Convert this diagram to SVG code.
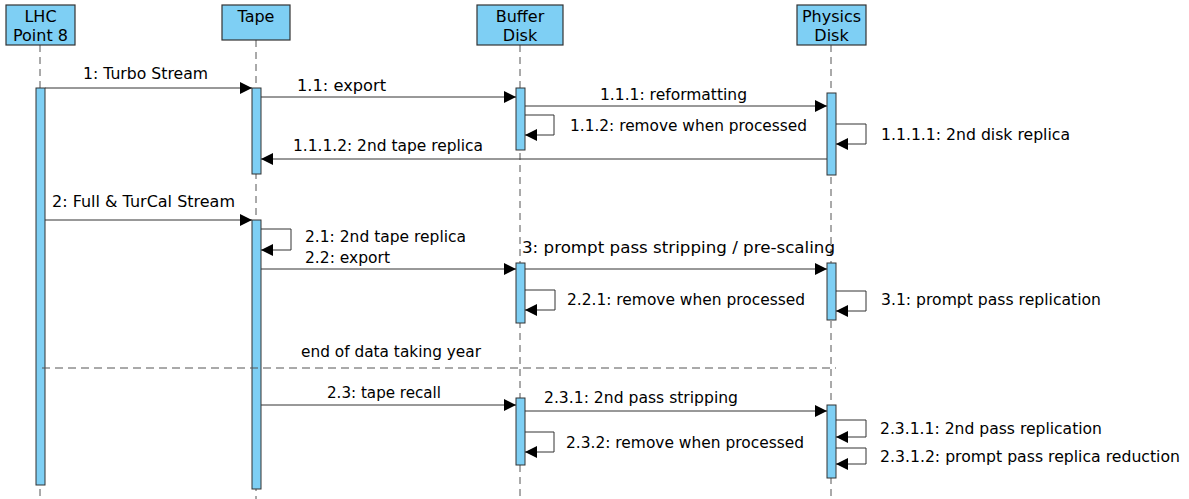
<svg xmlns="http://www.w3.org/2000/svg" width="1189" height="499" viewBox="0 0 1189 499">
<defs>
<marker id="ah" markerUnits="userSpaceOnUse" markerWidth="13" markerHeight="12" refX="12" refY="6" orient="auto">
<path d="M0,0 L12,6 L0,12 z" fill="#000"/>
</marker>
<style>
.hdr{fill:#7ecff4;stroke:#333;stroke-width:1.2}
.bar{fill:#7ecff4;stroke:#333;stroke-width:1}
.life{stroke:#555;stroke-width:1;stroke-dasharray:7,5;fill:none}
.msg{stroke:#333;stroke-width:1;fill:none;marker-end:url(#ah)}
.t{font-family:"DejaVu Sans",Verdana,sans-serif;font-size:15.5px;fill:#000}
.h{font-family:"DejaVu Sans",Verdana,sans-serif;font-size:16px;fill:#000;text-anchor:middle}
</style>
</defs>
<rect width="1189" height="499" fill="#fff"/>
<g id="lifelines">
<line class="life" x1="40" y1="45" x2="40" y2="499"/>
<line class="life" x1="256" y1="40" x2="256" y2="499"/>
<line class="life" x1="520" y1="45" x2="520" y2="499"/>
<line class="life" x1="831" y1="45" x2="831" y2="499"/>
</g>
<g id="lhc">
<rect class="hdr" x="6" y="5" width="69" height="40"/>
<text class="h" x="40.5" y="22">LHC</text>
<text class="h" x="40.5" y="41">Point 8</text>
<rect class="bar" x="36" y="88" width="9" height="397"/>
</g>
<g id="tape">
<rect class="hdr" x="222" y="5" width="68" height="35"/>
<text class="h" x="256" y="22">Tape</text>
<rect class="bar" x="252" y="88" width="9" height="86"/>
<rect class="bar" x="252" y="220" width="9" height="269"/>
</g>
<g id="buffer">
<rect class="hdr" x="477" y="5" width="86" height="40"/>
<text class="h" x="520" y="22">Buffer</text>
<text class="h" x="520" y="41">Disk</text>
<rect class="bar" x="516" y="88" width="9" height="62"/>
<rect class="bar" x="516" y="263" width="9" height="60"/>
<rect class="bar" x="516" y="398" width="9" height="67"/>
</g>
<g id="physics">
<rect class="hdr" x="797" y="5" width="69" height="40"/>
<text class="h" x="831.5" y="22">Physics</text>
<text class="h" x="831.5" y="41">Disk</text>
<rect class="bar" x="827" y="93" width="9" height="82"/>
<rect class="bar" x="827" y="263" width="9" height="57"/>
<rect class="bar" x="827" y="405" width="9" height="73"/>
</g>
<g id="connectors">
<line class="msg" x1="45" y1="88" x2="252" y2="88"/>
<line class="msg" x1="261" y1="97" x2="516" y2="97"/>
<line class="msg" x1="525" y1="106" x2="827" y2="106"/>
<path class="msg" d="M525,115 H554 V135 H525"/>
<path class="msg" d="M836,124 H866 V144 H836"/>
<line class="msg" x1="827" y1="159" x2="261" y2="159"/>
<line class="msg" x1="45" y1="220" x2="252" y2="220"/>
<path class="msg" d="M261,229 H291 V250 H261"/>
<line class="msg" x1="261" y1="269" x2="516" y2="269"/>
<line class="msg" x1="525" y1="269" x2="827" y2="269"/>
<path class="msg" d="M525,290 H555 V310 H525"/>
<path class="msg" d="M836,291 H866 V311 H836"/>
<line x1="42" y1="368" x2="836" y2="368" stroke="#555" stroke-width="1" stroke-dasharray="8,5"/>
<line class="msg" x1="261" y1="405" x2="516" y2="405"/>
<line class="msg" x1="525" y1="411" x2="827" y2="411"/>
<path class="msg" d="M525,432 H554 V452 H525"/>
<path class="msg" d="M836,420 H866 V437 H836"/>
<path class="msg" d="M836,448 H866 V464 H836"/>
</g>
<g id="labels">
<text class="t" x="83" y="79" textLength="125" lengthAdjust="spacingAndGlyphs">1: Turbo Stream</text>
<text class="t" x="297" y="91" textLength="89" lengthAdjust="spacingAndGlyphs">1.1: export</text>
<text class="t" x="600" y="100" textLength="147" lengthAdjust="spacingAndGlyphs">1.1.1: reformatting</text>
<text class="t" x="570" y="131" textLength="237" lengthAdjust="spacingAndGlyphs">1.1.2: remove when processed</text>
<text class="t" x="881" y="140" textLength="189" lengthAdjust="spacingAndGlyphs">1.1.1.1: 2nd disk replica</text>
<text class="t" x="293" y="151" textLength="190" lengthAdjust="spacingAndGlyphs">1.1.1.2: 2nd tape replica</text>
<text class="t" x="52" y="207" textLength="183" lengthAdjust="spacingAndGlyphs">2: Full &amp; TurCal Stream</text>
<text class="t" x="305" y="242" textLength="161" lengthAdjust="spacingAndGlyphs">2.1: 2nd tape replica</text>
<text class="t" x="305" y="263" textLength="85" lengthAdjust="spacingAndGlyphs">2.2: export</text>
<text class="t" x="522" y="253" textLength="313" lengthAdjust="spacingAndGlyphs">3: prompt pass stripping / pre-scaling</text>
<text class="t" x="567" y="305" textLength="238" lengthAdjust="spacingAndGlyphs">2.2.1: remove when processed</text>
<text class="t" x="881" y="305" textLength="220" lengthAdjust="spacingAndGlyphs">3.1: prompt pass replication</text>
<text class="t" x="301" y="357" textLength="180" lengthAdjust="spacingAndGlyphs">end of data taking year</text>
<text class="t" x="327" y="398" textLength="114" lengthAdjust="spacingAndGlyphs">2.3: tape recall</text>
<text class="t" x="544" y="403" textLength="194" lengthAdjust="spacingAndGlyphs">2.3.1: 2nd pass stripping</text>
<text class="t" x="566" y="448" textLength="238" lengthAdjust="spacingAndGlyphs">2.3.2: remove when processed</text>
<text class="t" x="880" y="434" textLength="222" lengthAdjust="spacingAndGlyphs">2.3.1.1: 2nd pass replication</text>
<text class="t" x="880" y="462" textLength="300" lengthAdjust="spacingAndGlyphs">2.3.1.2: prompt pass replica reduction</text>
</g>
</svg>
